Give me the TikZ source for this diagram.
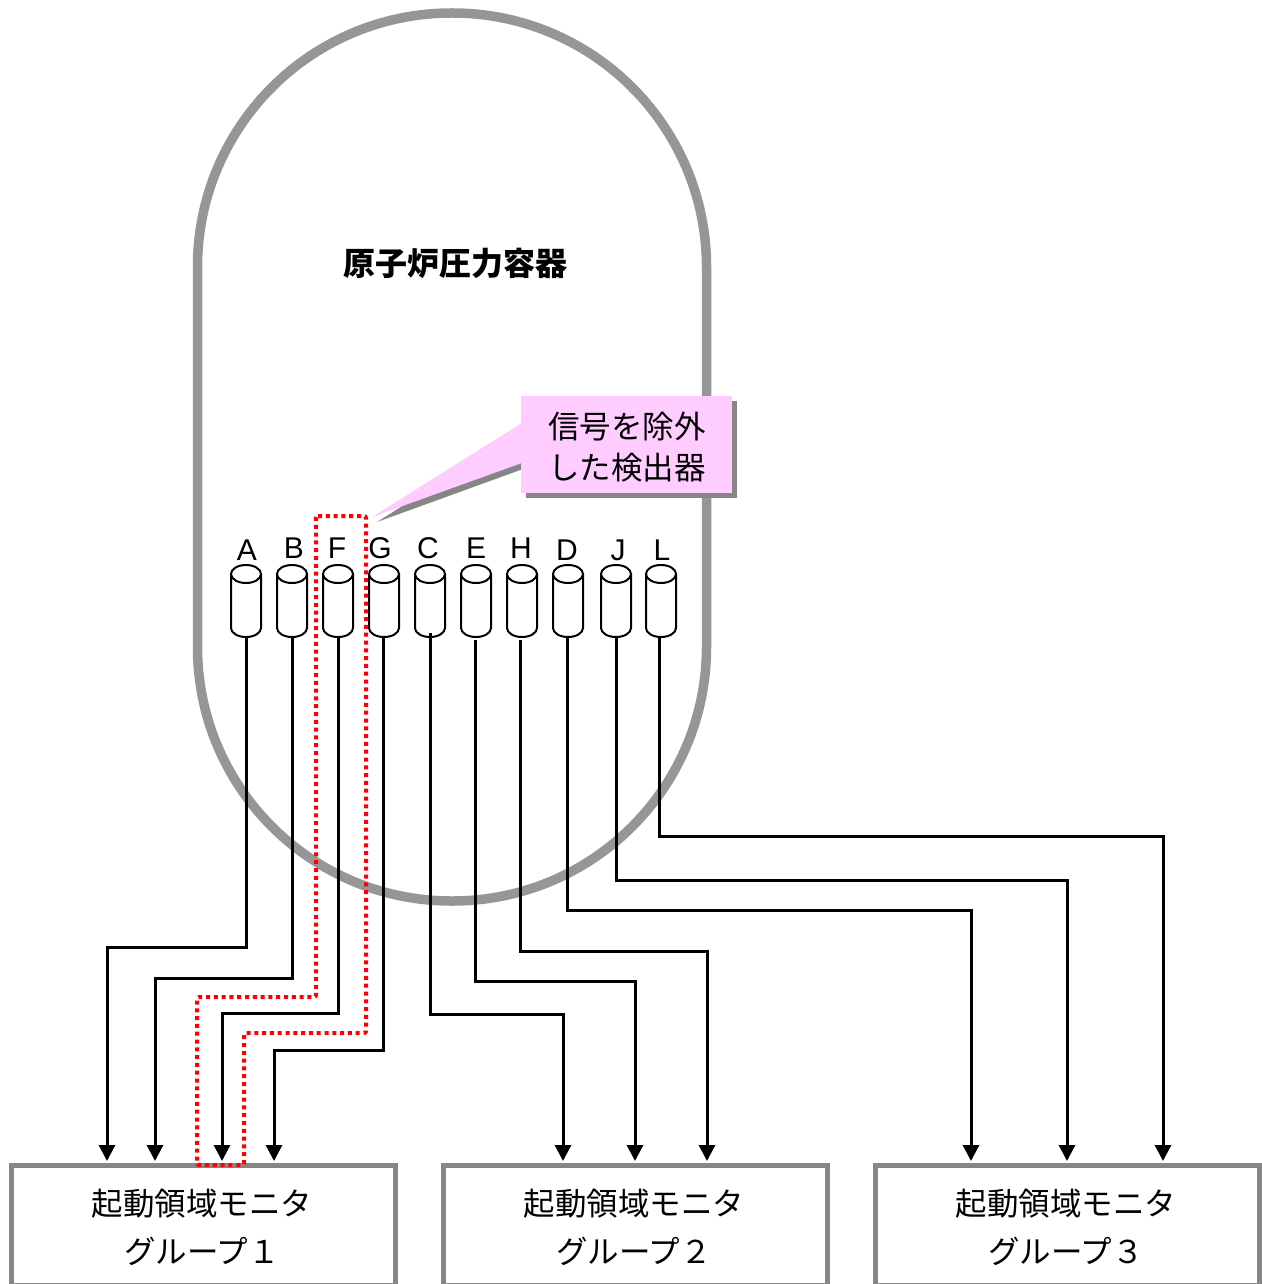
\documentclass[tikz,border=0pt]{standalone}
\usepackage{fontspec}
\setmainfont{Noto Sans CJK JP}
\newfontfamily\latinfont{Liberation Sans}
\usepackage{xcolor}
\usetikzlibrary{arrows.meta,calc}
\definecolor{vesselgray}{HTML}{969696}
\definecolor{boxgray}{HTML}{868686}
\definecolor{notepink}{HTML}{FFCCFF}
\newcommand{\detbody}[1]{\draw[line width=2pt] ([yshift=-9pt]#1.north west) -- ([yshift=9pt]#1.south west) arc[start angle=180,end angle=360,x radius=15pt,y radius=9pt] -- ([yshift=-9pt]#1.north east) arc[start angle=0,end angle=360,x radius=15pt,y radius=9pt];}

\begin{document}
\begin{tikzpicture}[x=1pt,y=-1pt,
		det/.style={minimum width=30pt,minimum height=72pt,inner sep=0pt,outer sep=0pt},
		lab/.style={font=\latinfont\fontsize{30}{30}\selectfont,inner sep=0pt},
		mon/.style={draw=boxgray,line width=5pt,fill=white,minimum width=384pt,minimum height=120pt,inner sep=0pt},
		montxt/.style={font=\fontsize{31.5}{48}\selectfont,align=center,inner sep=0pt},
		sig/.style={draw=black,line width=3pt,-{Triangle[length=16pt,width=16pt]}},
		note/.style={fill=notepink,minimum width=211pt,minimum height=97pt,inner sep=0pt}]
	\useasboundingbox (0,0) rectangle (1261,1284);
	
	\node[draw=vesselgray,line width=9.5pt,rounded corners=254pt,minimum width=509pt,minimum height=888pt,inner sep=0pt] (vessel) at (452,457) {};
	\node[font=\bfseries\fontsize{32}{32}\selectfont,inner sep=0pt] (title) at (455,263) {原子炉圧力容器};
	
	% detectors
	\node[det] (detA) at (246,601) {};
	\node[det] (detB) at (292,601) {};
	\node[det] (detF) at (338,601) {};
	\node[det] (detG) at (384,601) {};
	\node[det] (detC) at (430,601) {};
	\node[det] (detE) at (476,601) {};
	\node[det] (detH) at (522,601) {};
	\node[det] (detD) at (568,601) {};
	\node[det] (detJ) at (616,601) {};
	\node[det] (detL) at (661,601) {};
	\detbody{detA}
	\detbody{detB}
	\detbody{detF}
	\detbody{detG}
	\detbody{detC}
	\detbody{detE}
	\detbody{detH}
	\detbody{detD}
	\detbody{detJ}
	\detbody{detL}
	
	\node[lab] (labA) at (247,550) {A};
	\node[lab] (labB) at (294,548) {B};
	\node[lab] (labF) at (337,548) {F};
	\node[lab] (labG) at (380,548) {G};
	\node[lab] (labC) at (428,548) {C};
	\node[lab] (labE) at (476,548) {E};
	\node[lab] (labH) at (521,548) {H};
	\node[lab] (labD) at (567,550) {D};
	\node[lab] (labJ) at (618,550) {J};
	\node[lab] (labL) at (662,550) {L};
	
	% monitor groups
	\node[mon] (mon1) at (203,1225) {};
	\node[mon] (mon2) at (635,1225) {};
	\node[mon] (mon3) at (1067,1225) {};
	\node[montxt] (txt1) at (202,1227) {起動領域モニタ\\グループ１};
	\node[montxt] (txt2) at (634,1227) {起動領域モニタ\\グループ２};
	\node[montxt] (txt3) at (1066,1227) {起動領域モニタ\\グループ３};
	
	\coordinate (inA) at (107,1161);
	\coordinate (inB) at (155,1161);
	\coordinate (inF) at (222,1161);
	\coordinate (inG) at (274,1161);
	\coordinate (inC) at (563,1161);
	\coordinate (inE) at (635,1161);
	\coordinate (inH) at (707,1161);
	\coordinate (inD) at (971,1161);
	\coordinate (inJ) at (1067,1161);
	\coordinate (inL) at (1163,1161);
	
	\draw[sig] (detA.south) -- (detA.south |- 0,947) -| (inA);
	\draw[sig] (detB.south) -- (detB.south |- 0,978) -| (inB);
	\draw[sig] (detF.south) -- (detF.south |- 0,1013) -| (inF);
	\draw[sig] ([xshift=-1pt]detG.south) -- ([xshift=-1pt]detG.south |- 0,1050) -| (inG);
	\draw[sig] ([yshift=4pt]detC.south) -- (detC.south |- 0,1014) -| (inC);
	\draw[sig] ([xshift=-1pt,yshift=-3pt]detE.south) -- ([xshift=-1pt]detE.south |- 0,981) -| (inE);
	\draw[sig] ([xshift=-2pt,yshift=-3pt]detH.south) -- ([xshift=-2pt]detH.south |- 0,951) -| (inH);
	\draw[sig] ([xshift=-1pt]detD.south) -- ([xshift=-1pt]detD.south |- 0,910) -| (inD);
	\draw[sig] (detJ.south) -- (detJ.south |- 0,880) -| (inJ);
	\draw[sig] ([xshift=-2pt]detL.south) -- ([xshift=-2pt]detL.south |- 0,836) -| (inL);
	
	% excluded signal route
	\draw[red,line width=4pt,dash pattern=on 4pt off 3.8pt,rounded corners=2pt] (316,516) -- (366,516) -- (366,1033) -- (244,1033) -- (244,1165) -- (197,1165) -- (197,997) -- (316,997) -- cycle;
	
	% callout
	\coordinate (tip) at (372,517);
	\node[note,fill=boxgray] (noteshadow) at (631.5,449.5) {};
	\fill[boxgray] ($(tip)+(5,5)$) -- ($(noteshadow.west)+(0,-21.5)$) -- ($(noteshadow.west)+(0,18.5)$) -- cycle;
	\node[note] (note) at (626.5,444.5) {};
	\fill[notepink] (tip) -- ($(note.west)+(1,-21.5)$) -- ($(note.west)+(1,18.5)$) -- cycle;
	\node[font=\fontsize{31.5}{41}\selectfont,align=center,inner sep=0pt] (notetxt) at (627,447.5) {信号を除外\\した検出器};
\end{tikzpicture}
\end{document}
